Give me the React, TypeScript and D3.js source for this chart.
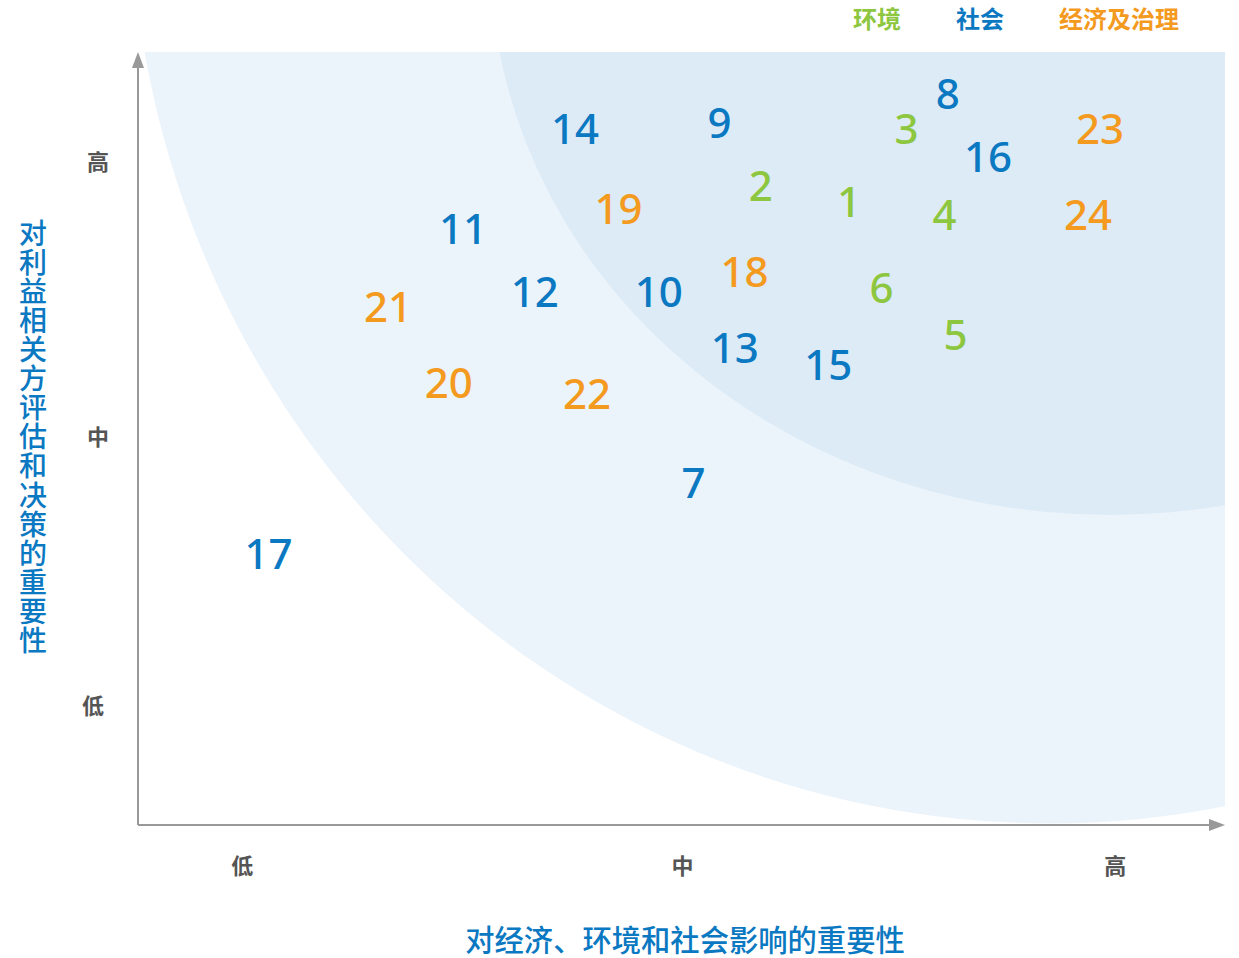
import React from "react";
import * as d3 from "d3";

const W = 1239;
const H = 958;

const categories = ["环境", "社会", "经济及治理"];
const categoryColors = ["#8dc63f", "#0b78c2", "#f39a1f"];

const labels = ["14", "9", "8", "3", "16", "23", "2", "1", "19", "11", "4", "24", "18", "12", "10", "6", "21", "5", "13", "15", "20", "22", "7", "17"];
const xValues = [4.02, 5.35, 7.45, 7.07, 7.82, 8.85, 5.73, 6.54, 4.42, 2.99, 7.42, 8.74, 5.58, 3.65, 4.79, 6.84, 2.30, 7.52, 5.49, 6.35, 2.86, 4.13, 5.11, 1.20];
const yValues = [9.00, 9.08, 9.46, 9.00, 8.64, 9.00, 8.27, 8.06, 7.97, 7.71, 7.89, 7.89, 7.15, 6.90, 6.90, 6.95, 6.70, 6.34, 6.17, 5.95, 5.72, 5.58, 4.42, 3.51];
const categoryIndex = [1, 1, 1, 0, 1, 2, 0, 0, 2, 1, 0, 2, 2, 1, 1, 0, 2, 0, 1, 1, 2, 2, 1, 1];

const xTickValues = [0.96, 5.01, 8.99];
const xTickLabels = ["低", "中", "高"];
const yTickValues = [1.54, 5.02, 8.58];
const yTickLabels = ["低", "中", "高"];

const xTitle = "对经济、环境和社会影响的重要性";
const yTitle = "对利益相关方评估和决策的重要性";

// background zones as ellipses in data units: [cx, cy, rx, ry]
const outerZone = [8.39, 12.12, 8.46, 12.1];
const innerZone = [8.94, 11.25, 5.7, 7.24];

const CJK = '"Noto Sans CJK SC", "Noto Sans", sans-serif';

export default function App() {
  const left = 138, right = 1225, top = 52, bottom = 825;
  const x = d3.scaleLinear().domain([0, 10]).range([left, right]);
  const y = d3.scaleLinear().domain([0, 10]).range([bottom, top]);

  const ellipse = (z: number[]) => ({
    cx: x(z[0]),
    cy: y(z[1]),
    rx: x(z[2]) - x(0),
    ry: y(0) - y(z[3]),
  });
  const o = ellipse(outerZone);
  const i = ellipse(innerZone);

  const axisColor = "#999999";
  const yTickX = [93, 98, 98];

  return (
    <svg
      width={W}
      height={H}
      style={{ position: "absolute", left: 0, top: 0, background: "#fff" }}
    >
      <defs>
        <clipPath id="plotClip">
          <rect x={left + 1} y={top} width={right - left - 1} height={bottom - top} />
        </clipPath>
      </defs>
      <g clipPath="url(#plotClip)">
        <ellipse cx={o.cx} cy={o.cy} rx={o.rx} ry={o.ry} fill="#ecf4fb" />
        <ellipse cx={i.cx} cy={i.cy} rx={i.rx} ry={i.ry} fill="#ddebf7" />
      </g>

      {/* axes */}
      <line x1={left} y1={bottom} x2={left} y2={top + 12} stroke={axisColor} strokeWidth={2} />
      <path d={`M${left},${top} L${left - 6},${top + 16} L${left + 6},${top + 16} Z`} fill={axisColor} />
      <line x1={left} y1={bottom} x2={right - 12} y2={bottom} stroke={axisColor} strokeWidth={2} />
      <path d={`M${right},${bottom} L${right - 16},${bottom - 6} L${right - 16},${bottom + 6} Z`} fill={axisColor} />

      {/* tick labels */}
      {xTickValues.map((v, k) => (
        <text key={"xt" + k} x={x(v)} y={874} textAnchor="middle" fontFamily={CJK} fontSize={22} fontWeight={700} fill="#555">
          {xTickLabels[k]}
        </text>
      ))}
      {yTickValues.map((v, k) => (
        <text key={"yt" + k} x={yTickX[k]} y={y(v)} dy="0.36em" textAnchor="middle" fontFamily={CJK} fontSize={22} fontWeight={700} fill="#555">
          {yTickLabels[k]}
        </text>
      ))}

      {/* axis titles */}
      <text x={685} y={940} dy="0.36em" textAnchor="middle" fontFamily={CJK} fontSize={29.3} fontWeight={500} fill="#0b78c2">
        {xTitle}
      </text>
      <text
        x={33}
        y={219}
        fontFamily={CJK}
        fontSize={28}
        fontWeight={500}
        fill="#0b78c2"
        letterSpacing={1.1}
        style={{ writingMode: "vertical-rl" as any }}
      >
        {yTitle}
      </text>

      {/* legend */}
      {categories.map((c, k) => {
        const lx = [853, 956, 1059][k];
        return (
          <text key={"lg" + k} x={lx} y={19} dy="0.36em" fontFamily={CJK} fontSize={24} fontWeight={700} fill={categoryColors[k]}>
            {c}
          </text>
        );
      })}

      {/* issue numbers */}
      {labels.map((l, k) => (
        <text
          key={"n" + k}
          x={x(xValues[k])}
          y={y(yValues[k])}
          dy="0.36em"
          textAnchor="middle"
          fontFamily='"Noto Sans", "Open Sans", sans-serif'
          fontSize={42}
          fontWeight={500}
          fill={categoryColors[categoryIndex[k]]}
        >
          {l}
        </text>
      ))}
    </svg>
  );
}
